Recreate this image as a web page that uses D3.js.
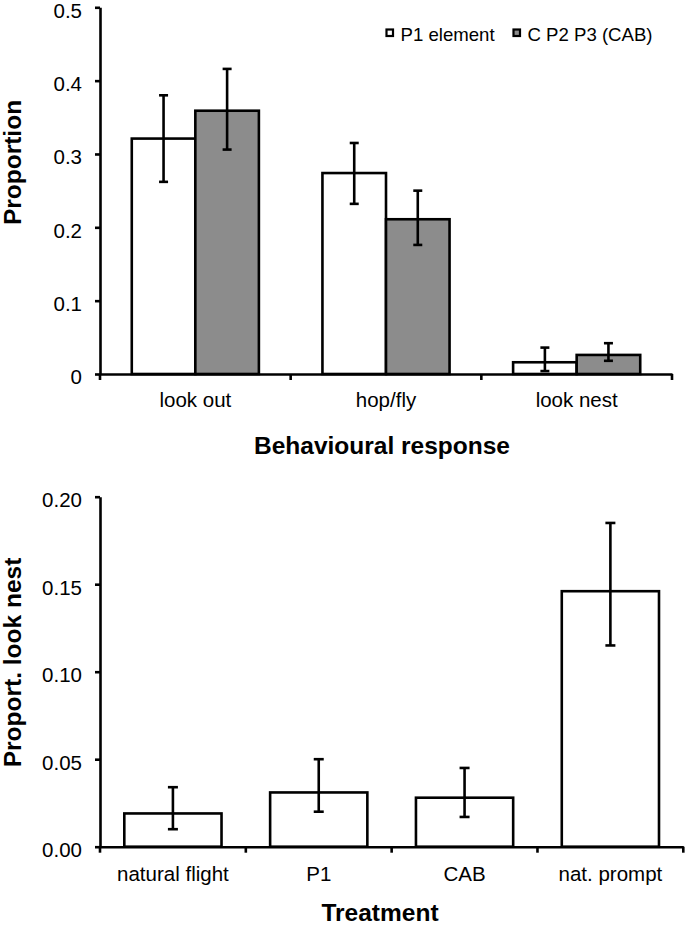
<!DOCTYPE html>
<html>
<head>
<meta charset="utf-8">
<script src="https://cdn.jsdelivr.net/npm/d3@7"></script>
<style>
  html, body { margin: 0; padding: 0; background: #fff; }
  svg { display: block; }
  text { font-family: "Liberation Sans", Arial, Helvetica, sans-serif; fill: #000; }
</style>
</head>
<body>
<svg id="chart" width="686" height="928"></svg>
<script>
// ---------- Data: top panel ----------
const categories = ["look out", "hop/fly", "look nest"];
const seriesNames = ["P1 element", "C P2 P3 (CAB)"];
const p1Values = [0.321, 0.274, 0.016];
const p1Low    = [0.262, 0.232, 0.004];
const p1High   = [0.380, 0.315, 0.036];
const cabValues = [0.359, 0.211, 0.026];
const cabLow    = [0.306, 0.176, 0.018];
const cabHigh   = [0.416, 0.250, 0.042];
const topTicks = [0, 0.1, 0.2, 0.3, 0.4, 0.5];
const topTickLabels = ["0", "0.1", "0.2", "0.3", "0.4", "0.5"];

// ---------- Data: bottom panel ----------
const treatments = ["natural flight", "P1", "CAB", "nat. prompt"];
const lookNest     = [0.019, 0.031, 0.028, 0.146];
const lookNestLow  = [0.010, 0.020, 0.017, 0.115];
const lookNestHigh = [0.034, 0.050, 0.045, 0.185];
const bottomTicks = [0, 0.05, 0.10, 0.15, 0.20];
const bottomTickLabels = ["0.00", "0.05", "0.10", "0.15", "0.20"];

const svg = d3.select("#chart");
const LW = 2.6;
const fills = ["#ffffff", "#8c8c8c"];

// ================= TOP PANEL =================
const tLeft = 100, tRight = 672, tTop = 7.3, tBottom = 374;
const yTop = d3.scaleLinear().domain([0, 0.5]).range([tBottom, tTop]);
const x0 = d3.scaleBand().domain(categories).range([tLeft, tRight]).padding(0);
const x1 = d3.scaleBand().domain(seriesNames).range([0, x0.bandwidth()])
  .paddingInner(0).paddingOuter(0.5);

const topData = seriesNames.map((s, si) => categories.map((c, ci) => ({
  series: s, si, cat: c,
  v: si === 0 ? p1Values[ci] : cabValues[ci],
  lo: si === 0 ? p1Low[ci] : cabLow[ci],
  hi: si === 0 ? p1High[ci] : cabHigh[ci]
}))).flat();

const gTop = svg.append("g");
gTop.selectAll("rect.bar").data(topData).join("rect")
  .attr("class", "bar")
  .attr("x", d => x0(d.cat) + x1(d.series))
  .attr("y", d => yTop(d.v))
  .attr("width", x1.bandwidth())
  .attr("height", d => yTop(0) - yTop(d.v))
  .attr("fill", d => fills[d.si])
  .attr("stroke", "#000").attr("stroke-width", LW);

// error bars
const capTop = 4.5;
const eb = gTop.selectAll("g.err").data(topData).join("g").attr("class", "err")
  .attr("transform", d => `translate(${x0(d.cat) + x1(d.series) + x1.bandwidth() / 2},0)`);
eb.append("line").attr("x1", 0).attr("x2", 0)
  .attr("y1", d => yTop(d.hi)).attr("y2", d => yTop(d.lo))
  .attr("stroke", "#000").attr("stroke-width", LW);
eb.append("line").attr("x1", -capTop).attr("x2", capTop)
  .attr("y1", d => yTop(d.hi)).attr("y2", d => yTop(d.hi))
  .attr("stroke", "#000").attr("stroke-width", LW);
eb.append("line").attr("x1", -capTop).attr("x2", capTop)
  .attr("y1", d => yTop(d.lo)).attr("y2", d => yTop(d.lo))
  .attr("stroke", "#000").attr("stroke-width", LW);

// y axis
const yAxisTop = gTop.append("g").attr("transform", `translate(${tLeft},0)`)
  .call(d3.axisLeft(yTop).tickValues(topTicks)
    .tickFormat((d, i) => topTickLabels[i]).tickSize(5).tickPadding(13).tickSizeOuter(0));
// x axis
const xAxisTop = gTop.append("g").attr("transform", `translate(0,${tBottom})`)
  .call(d3.axisBottom(x0).tickSize(0).tickPadding(18).tickSizeOuter(0));
// category boundary ticks
const topBounds = categories.map(c => x0(c)).concat([x0(categories[categories.length - 1]) + x0.bandwidth()]);
gTop.selectAll("line.btick").data(topBounds).join("line").attr("class", "btick")
  .attr("x1", d => d).attr("x2", d => d)
  .attr("y1", tBottom).attr("y2", tBottom + 6)
  .attr("stroke", "#000").attr("stroke-width", LW);

[yAxisTop, xAxisTop].forEach(a => {
  a.selectAll("path.domain").attr("stroke", "#000").attr("stroke-width", LW);
  a.selectAll(".tick line").attr("stroke", "#000").attr("stroke-width", LW);
  a.selectAll("text").style("font-size", "20.5px").attr("fill", "#000");
});
yAxisTop.selectAll(".tick text").attr("dy", "0.48em");

// axis titles
svg.append("text")
  .attr("transform", "translate(21,162.5) rotate(-90)")
  .attr("text-anchor", "middle")
  .style("font-size", "24.5px").style("font-weight", "bold")
  .text("Proportion");
svg.append("text")
  .attr("x", 382).attr("y", 454)
  .attr("text-anchor", "middle")
  .style("font-size", "24.5px").style("font-weight", "bold")
  .text("Behavioural response");

// legend
const legendX = [386.5, 513.5];
const legend = svg.append("g").selectAll("g").data(seriesNames).join("g")
  .attr("transform", (d, i) => `translate(${legendX[i]},29.5)`);
legend.append("rect").attr("x", 0).attr("y", 0).attr("width", 6.5).attr("height", 6.5)
  .attr("fill", (d, i) => fills[i]).attr("stroke", "#000").attr("stroke-width", 2.2);
legend.append("text").attr("x", 14).attr("y", 11.2)
  .style("font-size", "18.6px").text(d => d);

// ================= BOTTOM PANEL =================
const bLeft = 100, bRight = 683.3, bTop = 496.7, bBottom = 846.7;
const yBot = d3.scaleLinear().domain([0, 0.2]).range([bBottom, bTop]);
const xCat = d3.scaleBand().domain(treatments).range([bLeft, bRight]).padding(0);
const xBar = d3.scaleBand().domain(treatments).range([bLeft, bRight])
  .paddingInner(1 / 3).paddingOuter(1 / 6);

const botData = treatments.map((t, i) => ({ t, v: lookNest[i], lo: lookNestLow[i], hi: lookNestHigh[i] }));
const gBot = svg.append("g");
gBot.selectAll("rect.bar").data(botData).join("rect")
  .attr("class", "bar")
  .attr("x", d => xBar(d.t))
  .attr("y", d => yBot(d.v))
  .attr("width", xBar.bandwidth())
  .attr("height", d => yBot(0) - yBot(d.v))
  .attr("fill", "#fff").attr("stroke", "#000").attr("stroke-width", LW);

const capBot = 5;
const eb2 = gBot.selectAll("g.err").data(botData).join("g").attr("class", "err")
  .attr("transform", d => `translate(${xBar(d.t) + xBar.bandwidth() / 2},0)`);
eb2.append("line").attr("x1", 0).attr("x2", 0)
  .attr("y1", d => yBot(d.hi)).attr("y2", d => yBot(d.lo))
  .attr("stroke", "#000").attr("stroke-width", LW);
eb2.append("line").attr("x1", -capBot).attr("x2", capBot)
  .attr("y1", d => yBot(d.hi)).attr("y2", d => yBot(d.hi))
  .attr("stroke", "#000").attr("stroke-width", LW);
eb2.append("line").attr("x1", -capBot).attr("x2", capBot)
  .attr("y1", d => yBot(d.lo)).attr("y2", d => yBot(d.lo))
  .attr("stroke", "#000").attr("stroke-width", LW);

const yAxisBot = gBot.append("g").attr("transform", `translate(${bLeft},0)`)
  .call(d3.axisLeft(yBot).tickValues(bottomTicks)
    .tickFormat((d, i) => bottomTickLabels[i]).tickSize(5).tickPadding(13).tickSizeOuter(0));
const xAxisBot = gBot.append("g").attr("transform", `translate(0,${bBottom})`)
  .call(d3.axisBottom(xCat).tickSize(0).tickPadding(20).tickSizeOuter(0));
const botBounds = treatments.map(c => xCat(c)).concat([xCat(treatments[treatments.length - 1]) + xCat.bandwidth()]);
gBot.selectAll("line.btick").data(botBounds).join("line").attr("class", "btick")
  .attr("x1", d => d).attr("x2", d => d)
  .attr("y1", bBottom).attr("y2", bBottom + 6)
  .attr("stroke", "#000").attr("stroke-width", LW);

[yAxisBot, xAxisBot].forEach(a => {
  a.selectAll("path.domain").attr("stroke", "#000").attr("stroke-width", LW);
  a.selectAll(".tick line").attr("stroke", "#000").attr("stroke-width", LW);
  a.selectAll("text").style("font-size", "20.5px").attr("fill", "#000");
});
yAxisBot.selectAll(".tick text").attr("dy", "0.48em");

svg.append("text")
  .attr("transform", "translate(21,662.5) rotate(-90)")
  .attr("text-anchor", "middle")
  .style("font-size", "24.5px").style("font-weight", "bold")
  .text("Proport. look nest");
svg.append("text")
  .attr("x", 380).attr("y", 921)
  .attr("text-anchor", "middle")
  .style("font-size", "24.5px").style("font-weight", "bold")
  .text("Treatment");
</script>
</body>
</html>
